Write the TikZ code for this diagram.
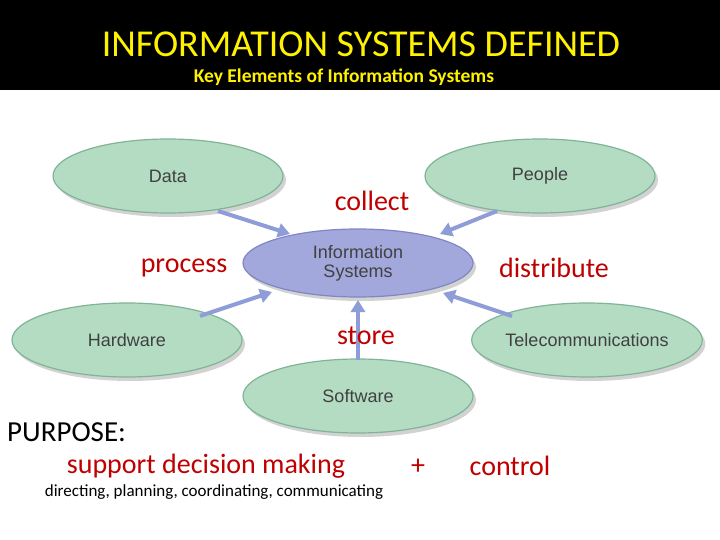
\documentclass[tikz,border=0pt]{standalone}
\usepackage{fontspec}
\setmainfont{Carlito}
\newfontfamily\arial{Liberation Sans}
\usetikzlibrary{arrows.meta,shapes.geometric,shadows}
\definecolor{gfill}{HTML}{B4DCC3}
\definecolor{gdraw}{HTML}{7FB596}
\definecolor{ifill}{HTML}{A3A8DC}
\definecolor{idraw}{HTML}{7F86C4}
\definecolor{arr}{HTML}{8E9CD8}
\definecolor{lab}{HTML}{C00000}
\tikzset{
 el/.style={ellipse, draw=gdraw, line width=1.2pt, fill=gfill, minimum width=230pt, minimum height=74pt, inner sep=0pt, font=\arial\fontsize{18}{18}\selectfont, text=black!75, drop shadow={shadow xshift=3pt, shadow yshift=-4pt, fill=black!35}},
 ar/.style={-{Triangle[length=12pt,width=14pt]}, draw=arr, line width=4pt},
 lb/.style={text=lab, font=\fontsize{28}{28}\selectfont, inner sep=0pt}
}
\begin{document}
\begin{tikzpicture}[x=1pt,y=-1pt]
\useasboundingbox (0,0) rectangle (720,540);
\fill[white] (0,0) rectangle (720,540);
\fill[black] (0,0) rectangle (720,90);
\node[text=yellow, font=\fontsize{38}{38}\selectfont, inner sep=0] (title) at (361,44) {INFORMATION SYSTEMS DEFINED};
\node[text=yellow, font=\bfseries\fontsize{19.5}{19}\selectfont, inner sep=0] (sub) at (344,77) {Key Elements of Information Systems};
\node[el] (data) at (168,176) {Data};
\node[el] (people) at (540,176) {People};
\node[el] (hw) at (127,340) {Hardware};
\node[el] (tel) at (587,340) {Telecommunications};
\node[el] (sw) at (358,396) {Software};
\node[el, draw=idraw, fill=ifill, minimum height=68pt, align=center, font=\arial\fontsize{18}{19}\selectfont] (is) at (358,263) {Information\\Systems};
\coordinate (d1) at (218,211); \coordinate (d2) at (290,234);
\coordinate (p1) at (497,211); \coordinate (p2) at (440,234);
\coordinate (h1) at (200,316); \coordinate (h2) at (272,292);
\coordinate (t1) at (512,316); \coordinate (t2) at (443,293);
\coordinate (s1) at (358,360); \coordinate (s2) at (358,300);
\draw[ar] (d1) -- (d2);
\draw[ar] (p1) -- (p2);
\draw[ar] (h1) -- (h2);
\draw[ar] (t1) -- (t2);
\draw[ar] (s1) -- (s2);
\node[lb] (collect) at (372,201) {collect};
\node[lb] (process) at (184,268) {process};
\node[lb] (distribute) at (554,268) {distribute};
\node[lb] (store) at (366,336) {store};
\node[font=\fontsize{29}{29}\selectfont, inner sep=0, anchor=west] (purpose) at (7,432) {PURPOSE:};
\node[lb] (sdm) at (206,466) {support decision making};
\node[lb] (plus) at (418,467) {+};
\node[lb] (ctrl) at (510,466) {control};
\node[font=\fontsize{17}{17}\selectfont, inner sep=0] (dir) at (214,492) {directing, planning, coordinating, communicating};
\end{tikzpicture}
\end{document}
